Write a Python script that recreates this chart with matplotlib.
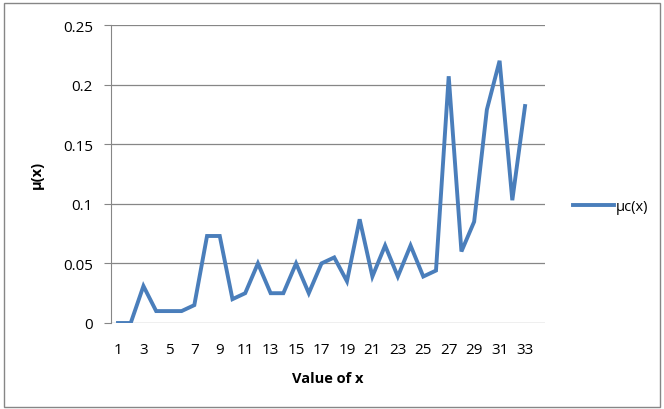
import matplotlib.pyplot as plt
from matplotlib.patches import Rectangle

x = list(range(1, 34))
mu = [0, 0, 0.031, 0.01, 0.01, 0.01, 0.015, 0.073, 0.073, 0.02,
      0.025, 0.05, 0.025, 0.025, 0.05, 0.025, 0.05, 0.055, 0.035, 0.087,
      0.039, 0.065, 0.039, 0.065, 0.039, 0.044, 0.207, 0.06, 0.085, 0.179,
      0.22, 0.103, 0.182]
xticks = list(range(1, 34, 2))
yticks = [0, 0.05, 0.1, 0.15, 0.2, 0.25]
ytick_labels = ['0', '0.05', '0.1', '0.15', '0.2', '0.25']

plt.rcParams['font.family'] = ['Open Sans', 'DejaVu Sans']

fig = plt.figure(figsize=(6.64, 4.10), dpi=100)
ax = fig.add_axes([111 / 664, 86 / 410, 434 / 664, 298 / 410])

line, = ax.plot(x, mu, color='#4a7ebb', lw=2.8, solid_joinstyle='miter', label='\u03bcc(x)')

ax.set_xlim(0.45, 34.57)
ax.set_ylim(0, 0.25)
ax.set_xticks(xticks)
ax.set_xticklabels([str(v) for v in xticks], fontsize=11)
ax.set_yticks(yticks)
ax.set_yticklabels(ytick_labels, fontsize=11)
ax.tick_params(axis='x', length=0, pad=14)
ax.tick_params(axis='y', length=5, color='#868686', pad=8)
ax.yaxis.grid(True, color='#868686', lw=0.9)
ax.set_axisbelow(True)
for s in ['top', 'right', 'bottom']:
    ax.spines[s].set_visible(False)
ax.spines['left'].set_color('#868686')

ax.set_xlabel('Value of x', fontsize=10.5, fontweight='bold', labelpad=10)
ax.set_ylabel('\u03bc(x)', fontsize=10.5, fontweight='bold', labelpad=14)

fig.legend(handles=[line], loc='center left', bbox_to_anchor=(560 / 664, 1 - 208 / 410),
           frameon=False, fontsize=10.5, handlelength=2.8, handletextpad=0.1)

fig.patches.append(Rectangle((4 / 664, 2 / 410), 656 / 664, 404 / 410, transform=fig.transFigure,
                             fill=False, edgecolor='#868686', lw=1))

fig.savefig('out.png', dpi=100)
